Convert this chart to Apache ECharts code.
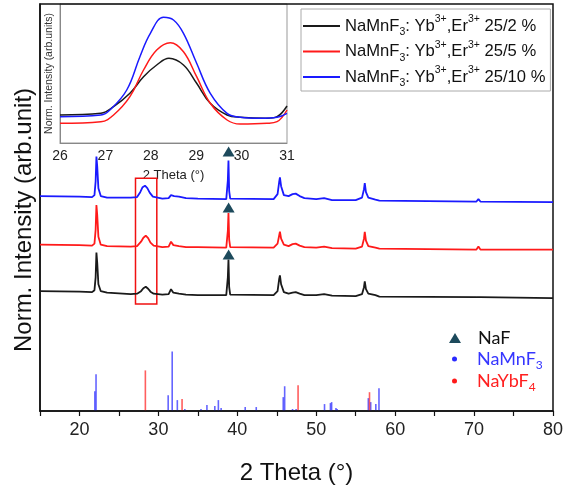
<!DOCTYPE html>
<html>
<head>
<meta charset="utf-8">
<script src="https://cdn.jsdelivr.net/npm/echarts@6/dist/echarts.min.js"></script>
<style>
  html, body { margin: 0; padding: 0; background: #fff; }
  #main { width: 567px; height: 490px; }
</style>
</head>
<body>
<div id="main"></div>
<script>
// sample names
var names = ['NaMnF3: Yb3+,Er3+ 25/2 %', 'NaMnF3: Yb3+,Er3+ 25/5 %', 'NaMnF3: Yb3+,Er3+ 25/10 %'];
var colors = ['#1a1a1a', '#ff1a1a', '#1a1aff'];

// XRD patterns, [2theta, intensity] (offset stacked, arb. units)
var black = [[15,121],[20,120.5],[21.6,120],[21.9,122],[22.05,135],[22.15,160],[22.25,150],[22.4,128],[22.7,121],[23.5,119.5],
  [26.5,118],[27.3,118.5],[27.8,121],[28.1,124],[28.4,125.5],[28.7,123.5],[29.0,120.5],[29.4,118.5],[30.5,117.5],[31.3,118],
  [31.6,123],[31.9,119.5],[32.6,118.5],[33.5,117.5],[35,117],[38.6,117],[38.8,135],[38.88,153],[38.97,125],[39.1,117.5],
  [44.6,117],[45.1,121],[45.3,133],[45.4,137],[45.55,128],[45.9,120],[46.5,118.5],[47.0,119.5],[47.4,120],[47.9,118.5],
  [48.5,117],[50,117],[51,118],[52,116.5],[55,116],[55.8,118],[56.05,125],[56.15,131],[56.3,123],[56.6,118.5],[57.5,117],
  [58,115.5],[70.3,115],[70.55,117],[70.8,115],[80,114]];
var red = [[15,168],[20,167.5],[21.6,167],[21.9,169],[22.05,183],[22.15,208],[22.25,198],[22.4,176],[22.7,168],[23.5,166.5],
  [26.5,166],[27.3,166.5],[27.8,171],[28.1,175],[28.4,177],[28.7,174.5],[29.0,170],[29.4,167],[30.5,165.5],[31.3,166],
  [31.6,171],[31.9,167.5],[32.6,166.5],[33.5,165.5],[35,165.5],[38.6,165],[38.8,182],[38.88,200],[38.97,173],[39.1,165.5],
  [44.6,165],[45.1,169],[45.3,177],[45.4,181],[45.55,174],[45.9,168],[46.5,166.5],[47.0,168.5],[47.4,169],[47.9,167],
  [48.5,165.5],[50,165],[51,166],[52,164.5],[55,164],[55.8,166],[56.05,174],[56.15,181],[56.3,172],[56.6,166.5],[57.5,165],
  [58,164],[70.3,163],[70.55,166],[70.8,163],[80,163]];
var blue = [[15,217],[20,216.5],[21.6,216],[21.9,218],[22.05,232],[22.15,257],[22.25,247],[22.4,225],[22.7,217],[23.5,215.5],
  [26.5,215.5],[27.3,216],[27.7,221],[28.0,226],[28.3,227.5],[28.6,225],[28.9,220.5],[29.3,216.5],[30.5,214.5],[31.3,215],
  [31.6,218],[32.0,217],[32.6,216.5],[33.5,215],[35,214.5],[38.6,214],[38.8,233],[38.88,253],[38.97,222],[39.1,214.5],
  [44.6,214],[45.1,219],[45.3,231],[45.4,236],[45.55,227],[45.9,218],[46.5,217],[47.0,219],[47.4,219.5],[47.9,217],
  [48.5,215],[50,214],[51,215],[52,213],[55,213],[55.8,215.5],[56.05,224],[56.15,230],[56.3,221],[56.6,215.5],[57.5,213.5],
  [58,212.5],[70.3,211.5],[70.55,214],[70.8,211.5],[80,211]];

// NaF markers
var nafMarks = [[38.9,158],[38.9,205.5],[38.9,262]];

// reference sticks
var naMnF3 = [[21.95,20],[22.1,37],[31.24,16],[31.75,60],[32.4,11],[33.35,2],[35.4,2],[36.15,6],[37.15,5],[37.6,11],[37.95,3],
  [41.0,4],[42.4,4],[45.82,14],[46.0,25],[47.0,2],[47.45,2],[51.05,7],[51.8,8],[51.95,9],[52.5,3],[52.65,2],
  [56.6,13],[56.9,9],[57.55,7],[57.95,23]];
var naYbF4 = [[28.35,41],[33.0,12],[47.7,26],[56.75,19]];

// inset (zoom 26-31)
var insetBlack = [[26,28],[26.9,29.7],[27.18,36.3],[27.54,49.7],[27.84,66.3],[28.13,78],[28.4,84.7],[28.72,78],[29.01,59.7],
  [29.31,39.7],[29.68,28],[29.97,25.7],[30.56,24.7],[30.78,26.3],[31,37]];
var insetRed = [[26,19.7],[26.9,21.3],[27.18,28],[27.54,46.3],[27.84,73],[28.13,93],[28.43,100.3],[28.72,91.3],[29.01,66.3],
  [29.31,39.7],[29.68,23],[29.97,19],[30.56,19.7],[30.78,21.3],[31,33]];
var insetBlue = [[26,26.3],[26.9,28],[27.1,33],[27.47,53],[27.76,86.3],[27.99,109.7],[28.28,125.7],[28.5,123],[28.72,109.7],
  [29.01,79.7],[29.31,49.7],[29.68,29.7],[29.97,25.7],[30.41,24.7],[30.78,25.7],[31,29.7]];

var chart = echarts.init(document.getElementById('main'));
var font = 'Liberation Sans';

function sticks(params, api) {
  var p0 = api.coord([api.value(0), 0]);
  var p1 = api.coord([api.value(0), api.value(1)]);
  return {
    type: 'line',
    shape: { x1: p0[0], y1: p0[1], x2: p1[0], y2: p1[1] },
    style: { stroke: api.visual('color'), lineWidth: 1.6 }
  };
}

function sampleLabel(n) {
  var tail = n.split('Er3+')[1];
  return '{a|NaMnF}{sub|3}{a|: Yb}{sup|3+}{a|,Er}{sup|3+}{a|' + tail + '}';
}

var option = {
  animation: false,
  grid: [
    { left: 40, right: 14, top: 4, bottom: 75, show: true, borderColor: '#111', borderWidth: 1.5, z: 3 },
    { left: 60, top: 4, width: 227, height: 139, show: true, borderColor: '#999', borderWidth: 1 }
  ],
  xAxis: [{
    type: 'value', gridIndex: 0, min: 15, max: 80, interval: 5,
    axisLine: { lineStyle: { color: '#111', width: 1.5 } },
    axisTick: { length: 5, lineStyle: { color: '#111', width: 1.2 } },
    axisLabel: { fontFamily: font, fontSize: 18, color: '#222', margin: 10,
      formatter: function (v) { return v % 10 === 0 ? v : ''; } },
    splitLine: { show: false },
    name: '2 Theta (°)', nameLocation: 'middle', nameGap: 50,
    nameTextStyle: { fontFamily: font, fontSize: 24, color: '#111' }
  }, {
    type: 'value', gridIndex: 1, min: 26, max: 31, interval: 1,
    axisLine: { lineStyle: { color: '#888', width: 1 } },
    axisTick: { show: false },
    axisLabel: { fontFamily: font, fontSize: 14, color: '#222', margin: 6 },
    splitLine: { show: false },
    name: '2 Theta (°)', nameLocation: 'middle', nameGap: 26,
    nameTextStyle: { fontFamily: font, fontSize: 13, color: '#222' }
  }],
  yAxis: [{
    type: 'value', gridIndex: 0, min: 0, max: 411,
    axisLine: { show: true, lineStyle: { color: '#111', width: 1.5 } },
    axisTick: { show: false }, axisLabel: { show: false }, splitLine: { show: false }
  }, {
    type: 'value', gridIndex: 1, min: 0, max: 139,
    axisLine: { show: true, lineStyle: { color: '#888', width: 1 } },
    axisTick: { show: false }, axisLabel: { show: false }, splitLine: { show: false },
    name: 'Norm. Intensity (arb.units)', nameLocation: 'middle', nameGap: 5,
    nameTextStyle: { fontFamily: font, fontSize: 10.5, color: '#333' }
  }],
  legend: [{
    data: names, left: 301, top: 9, orient: 'vertical', selectedMode: false,
    backgroundColor: '#fff', borderColor: '#aaa', borderWidth: 1,
    padding: [5, 5, 2, 2], itemGap: 1.5, itemWidth: 37, itemHeight: 2, icon: 'rect',
    formatter: sampleLabel,
    textStyle: {
      fontFamily: font, color: '#111',
      rich: {
        a: { fontFamily: font, fontSize: 16.6, lineHeight: 24, color: '#111' },
        sub: { fontFamily: font, fontSize: 10.5, lineHeight: 12, verticalAlign: 'bottom', color: '#111' },
        sup: { fontFamily: font, fontSize: 10.5, lineHeight: 12, verticalAlign: 'top', color: '#111' }
      }
    }
  }, {
    data: [{ name: 'NaF', itemStyle: { color: '#1d4a5c', opacity: 1 } }], left: 444, top: 322, selectedMode: false,
    icon: 'triangle', itemWidth: 12, itemHeight: 10,
    textStyle: { fontFamily: 'Lato', fontSize: 18, color: '#111', padding: [0, 0, 0, 12], lineHeight: 22 }
  }, {
    data: [{ name: 'NaMnF3', itemStyle: { color: '#2a2aff' } }, { name: 'NaYbF4', itemStyle: { color: '#ff1a1a' } }],
    left: 447, top: 345, orient: 'vertical', selectedMode: false,
    icon: 'circle', itemWidth: 5, itemHeight: 5, itemGap: 1,
    formatter: function (n) {
      return n === 'NaMnF3' ? '{b|NaMnF}{bs|3}' : '{r|NaYbF}{rs|4}';
    },
    textStyle: {
      padding: [0, 0, 0, 15],
      rich: {
        b: { fontFamily: 'Lato', fontSize: 18, lineHeight: 24, color: '#3636ff' },
        bs: { fontFamily: 'Lato', fontSize: 12, lineHeight: 14, verticalAlign: 'bottom', color: '#3636ff' },
        r: { fontFamily: 'Lato', fontSize: 18, lineHeight: 24, color: '#ff2020' },
        rs: { fontFamily: 'Lato', fontSize: 12, lineHeight: 14, verticalAlign: 'bottom', color: '#ff2020' }
      }
    }
  }],
  graphic: [{
    type: 'text', x: 24, y: 220, rotation: Math.PI / 2,
    style: { text: 'Norm. Intensity (arb.unit)', font: '24px "Liberation Sans"', fill: '#111',
      align: 'center', verticalAlign: 'middle' }
  }],
  series: [
    { name: names[0], type: 'line', data: black, symbol: 'none', color: colors[0],
      lineStyle: { width: 1.8 },
      markArea: { silent: true, itemStyle: { color: 'rgba(0,0,0,0)', borderColor: '#f01010', borderWidth: 1.5 },
        data: [[{ coord: [27.1, 108] }, { coord: [29.8, 235] }]] } },
    { name: names[1], type: 'line', data: red, symbol: 'none', color: colors[1], lineStyle: { width: 1.8 } },
    { name: names[2], type: 'line', data: blue, symbol: 'none', color: colors[2], lineStyle: { width: 1.8 } },
    { name: 'NaF', type: 'scatter', data: nafMarks, symbol: 'triangle', symbolSize: [12, 10], color: '#1d4a5c',
      itemStyle: { opacity: 1 }, z: 5 },
    { name: 'NaMnF3', type: 'custom', data: naMnF3, renderItem: sticks, color: 'rgba(50,50,255,0.75)', encode: { x: 0, y: 1 } },
    { name: 'NaYbF4', type: 'custom', data: naYbF4, renderItem: sticks, color: 'rgba(255,40,40,0.75)', encode: { x: 0, y: 1 } },
    { name: names[0], type: 'line', xAxisIndex: 1, yAxisIndex: 1, data: insetBlack, symbol: 'none', smooth: 0.4, color: colors[0], lineStyle: { width: 1.5 } },
    { name: names[1], type: 'line', xAxisIndex: 1, yAxisIndex: 1, data: insetRed, symbol: 'none', smooth: 0.4, color: colors[1], lineStyle: { width: 1.5 } },
    { name: names[2], type: 'line', xAxisIndex: 1, yAxisIndex: 1, data: insetBlue, symbol: 'none', smooth: 0.4, color: colors[2], lineStyle: { width: 1.5 } }
  ]
};
chart.setOption(option);
</script>
</body>
</html>
